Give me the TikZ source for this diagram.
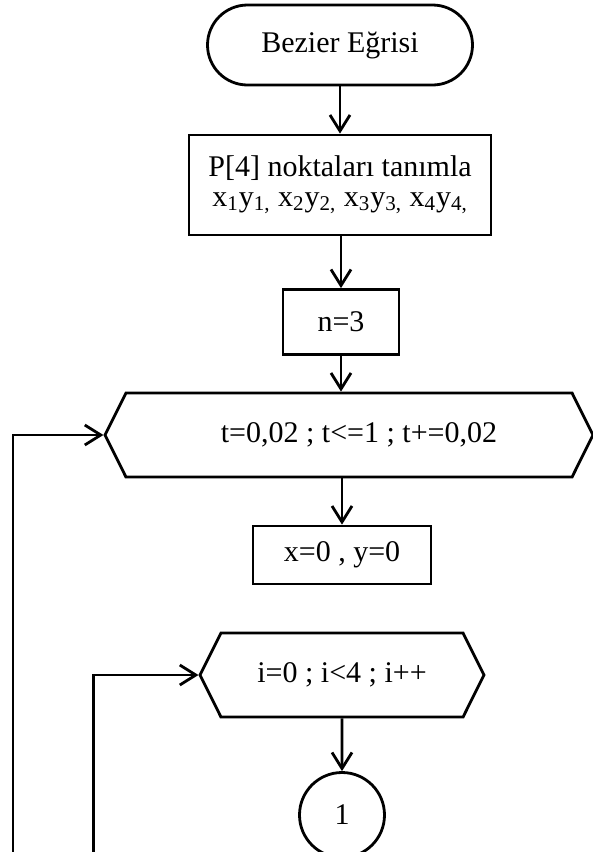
\documentclass[tikz,border=0pt]{standalone}
\usepackage{fontspec}
\setmainfont{Liberation Serif}
\usepackage{tikz}
\usetikzlibrary{
  arrows.meta,
  shapes.misc,
  shapes.symbols,
  positioning
}
\tikzset{
  fcnode/.style={
    draw, line width=1.4pt, font=\fontsize{15}{15}\selectfont, align=center,
    inner sep=2pt
  },
  terminal/.style={fcnode, rounded corners=20pt, minimum width=132.5pt, minimum height=40pt},
  procbox/.style={fcnode, rectangle},
  loopbox/.style={fcnode, signal, signal to=west and east, signal pointer angle=127},
  connector/.style={fcnode, circle, minimum size=42.5pt},
  flow/.style={-{Straight Barb[length=8pt, width=10pt, line width=1.4pt]}, line width=1.4pt},
  backline/.style={flow}
}

\begin{document}
\begin{tikzpicture}[x=0.5pt, y=-0.5pt]
  \useasboundingbox (0,0) rectangle (593,852);

  \node[terminal] (start) at (340,45) {Bezier Eğrisi};
  \node[procbox, minimum width=151pt, minimum height=50pt] (points) at (340,185)
    {P[4] noktaları tanımla\\
     x\textsubscript{1}y\textsubscript{1,} x\textsubscript{2}y\textsubscript{2,}
     x\textsubscript{3}y\textsubscript{3,} x\textsubscript{4}y\textsubscript{4,}};
  \node[procbox, minimum width=58pt, minimum height=32.5pt] (degree) at (341,322) {n=3};
  \node[loopbox, minimum width=244pt, minimum height=42pt] (tloop) at (349,435)
    {\hspace*{10pt}t=0,02 ; t<=1 ; t+=0,02};
  \node[procbox, minimum width=89pt, minimum height=29pt] (reset) at (342,555) {x=0 , y=0};
  \node[loopbox, minimum width=142pt, minimum height=42pt] (iloop) at (342,675)
    {i=0 ; i<4 ; i++};
  \node[connector] (link) at (342,815) {1};

  % loop feet at the lower edge
  \coordinate (tfoot) at (13,852);
  \coordinate (ifoot) at (93.5,852);

  \draw[flow] (start) -- (points);
  \draw[flow] (degree |- points.south) -- (degree);
  \draw[flow] (degree) -- (degree |- tloop.north);
  \draw[flow] (reset |- tloop.south) -- (reset);
  \draw[flow] (iloop) -- (link);

  \draw[backline] (tfoot) |- (tloop.west);
  \draw[backline] (ifoot) |- (iloop.west);
\end{tikzpicture}
\end{document}
